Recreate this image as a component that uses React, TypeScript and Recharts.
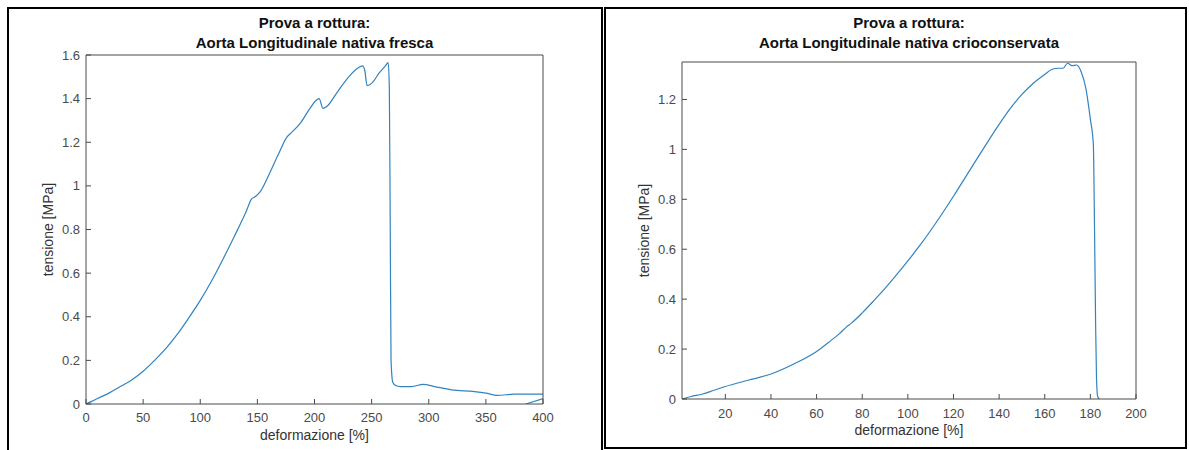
import { LineChart, Line, XAxis, YAxis, Label } from 'recharts';

// left panel: fresh tissue
const freshStrain = [0, 5, 10, 20, 30, 40, 50, 60, 70, 80, 90, 100, 110, 120, 130, 140, 145, 148, 152, 160, 168, 176, 180, 188, 196, 201, 204, 207.5, 211, 220, 230, 238, 242, 244, 246, 250, 257, 262, 264.5, 265.5, 266.3, 267, 268.5, 271, 275, 285, 295, 305, 320, 340, 350, 360, 375, 400];
const freshStress = [0, 0.012, 0.025, 0.05, 0.08, 0.11, 0.15, 0.2, 0.255, 0.32, 0.395, 0.475, 0.565, 0.665, 0.77, 0.88, 0.94, 0.95, 0.97, 1.05, 1.14, 1.225, 1.245, 1.29, 1.355, 1.39, 1.4, 1.355, 1.365, 1.43, 1.5, 1.54, 1.55, 1.53, 1.46, 1.47, 1.52, 1.55, 1.565, 1.45, 0.8, 0.2, 0.1, 0.085, 0.08, 0.08, 0.09, 0.08, 0.065, 0.057, 0.05, 0.04, 0.045, 0.045];
// short return stroke at the right edge
const freshTailStrain = [415, 385];
const freshTailStress = [0.05, 0];

// right panel: cryopreserved tissue
const crioStrain = [1, 5, 10, 15, 20, 30, 40, 50, 60, 65, 70, 73, 75, 80, 85, 90, 95, 100, 105, 110, 115, 120, 125, 130, 135, 140, 145, 150, 155, 160, 163, 166, 168, 170, 172, 174, 176, 178, 180, 181.3, 181.8, 182.3, 182.7, 183.2, 184];
const crioStress = [0, 0.01, 0.02, 0.035, 0.05, 0.075, 0.1, 0.14, 0.19, 0.225, 0.262, 0.288, 0.302, 0.345, 0.393, 0.443, 0.497, 0.553, 0.612, 0.675, 0.742, 0.812, 0.885, 0.958, 1.03, 1.1, 1.165, 1.22, 1.265, 1.3, 1.32, 1.325, 1.325, 1.345, 1.335, 1.338, 1.31, 1.245, 1.12, 1.02, 0.7, 0.3, 0.08, 0.01, 0];

const freshXTicks = [0, 50, 100, 150, 200, 250, 300, 350, 400];
const freshYTicks = [0, 0.2, 0.4, 0.6, 0.8, 1, 1.2, 1.4, 1.6];
const crioXTicks = [20, 40, 60, 80, 100, 120, 140, 160, 180, 200];
const crioYTicks = [0, 0.2, 0.4, 0.6, 0.8, 1, 1.2];

const font = '"Liberation Sans", Arial, Helvetica, sans-serif';
const axisColor = '#4a4a4a';
const lineColor = '#3283be';

interface Series {
  xs: number[];
  ys: number[];
  curve: 'monotoneX' | 'linear';
}

interface PanelProps {
  left: number;
  width: number;
  title: string;
  series: Series[];
  xDomain: [number, number];
  xTicks: number[];
  yDomain: [number, number];
  yTicks: number[];
  margin: { top: number; right: number; bottom: number; left: number };
  xTickMargin: number;
}

function Panel({ left, width, title, series, xDomain, xTicks, yDomain, yTicks, margin, xTickMargin }: PanelProps) {
  const tickStyle = { fill: axisColor, fontSize: 13, fontFamily: font };
  const plotLeft = margin.left + 40;
  const plotWidth = width - plotLeft - margin.right - 10;

  return (
    <div style={{ position: 'absolute', left, top: 0, width, height: 450 }}>
      <div style={{
        position: 'absolute', left: plotLeft - 100, width: plotWidth + 200, top: 13, textAlign: 'center',
        fontFamily: font, fontWeight: 'bold', fontSize: 15, lineHeight: '20px', color: '#111',
      }}>
        Prova a rottura:<br />{title}
      </div>
      <div style={{ position: 'absolute', left: 0, top: 0 }}>
        <LineChart width={width} height={450} margin={margin}>
          <XAxis xAxisId="b" dataKey="x" type="number" domain={xDomain} ticks={xTicks} interval={0}
            allowDataOverflow height={30} tickSize={-5} tickMargin={xTickMargin} stroke={axisColor} tick={tickStyle}>
            <Label value="deformazione [%]" position="bottom" offset={-4}
              style={{ fill: '#333', fontSize: 14, fontFamily: font }} />
          </XAxis>
          <XAxis xAxisId="t" orientation="top" type="number" domain={xDomain} ticks={xTicks} interval={0}
            allowDataOverflow height={5} tickSize={-5} stroke={axisColor} tick={false} />
          <YAxis yAxisId="l" type="number" domain={yDomain} ticks={yTicks} interval={0}
            allowDataOverflow width={40} tickSize={-5} tickMargin={11} stroke={axisColor} tick={tickStyle}>
            <Label value="tensione [MPa]" angle={-90} position="insideLeft" offset={2}
              style={{ fill: '#333', fontSize: 14, fontFamily: font, textAnchor: 'middle' }} />
          </YAxis>
          <YAxis yAxisId="r" orientation="right" type="number" domain={yDomain} ticks={yTicks} interval={0}
            allowDataOverflow width={10} tickSize={-5} stroke={axisColor} tick={false} />
          {series.map((s, k) => (
            <Line key={k} xAxisId="b" yAxisId="l" data={s.xs.map((x, i) => ({ x, y: s.ys[i] }))}
              dataKey="y" type={s.curve} stroke={lineColor} strokeWidth={1.2}
              dot={false} activeDot={false} isAnimationActive={false} />
          ))}
        </LineChart>
      </div>
    </div>
  );
}

export default function App() {
  return (
    <div style={{ position: 'absolute', left: 0, top: 0, width: 1189, height: 450, background: '#fff', overflow: 'hidden' }}>
      <div style={{ position: 'absolute', left: 7, top: 7, width: 596, height: 450, border: '2px solid #000', boxSizing: 'border-box' }} />
      <div style={{ position: 'absolute', left: 604, top: 7, width: 583, height: 442, border: '2px solid #000', boxSizing: 'border-box' }} />
      <Panel left={0} width={603} title="Aorta Longitudinale nativa fresca"
        series={[
          { xs: freshStrain, ys: freshStress, curve: 'monotoneX' },
          { xs: freshTailStrain, ys: freshTailStress, curve: 'linear' },
        ]}
        xDomain={[0, 400]} xTicks={freshXTicks}
        yDomain={[0, 1.6]} yTicks={freshYTicks}
        margin={{ top: 50, right: 50, bottom: 16, left: 46 }} xTickMargin={14} />
      <Panel left={603} width={586} title="Aorta Longitudinale nativa crioconservata"
        series={[{ xs: crioStrain, ys: crioStress, curve: 'monotoneX' }]}
        xDomain={[1, 200]} xTicks={crioXTicks}
        yDomain={[0, 1.35]} yTicks={crioYTicks}
        margin={{ top: 57, right: 43, bottom: 21, left: 39 }} xTickMargin={15} />
    </div>
  );
}
